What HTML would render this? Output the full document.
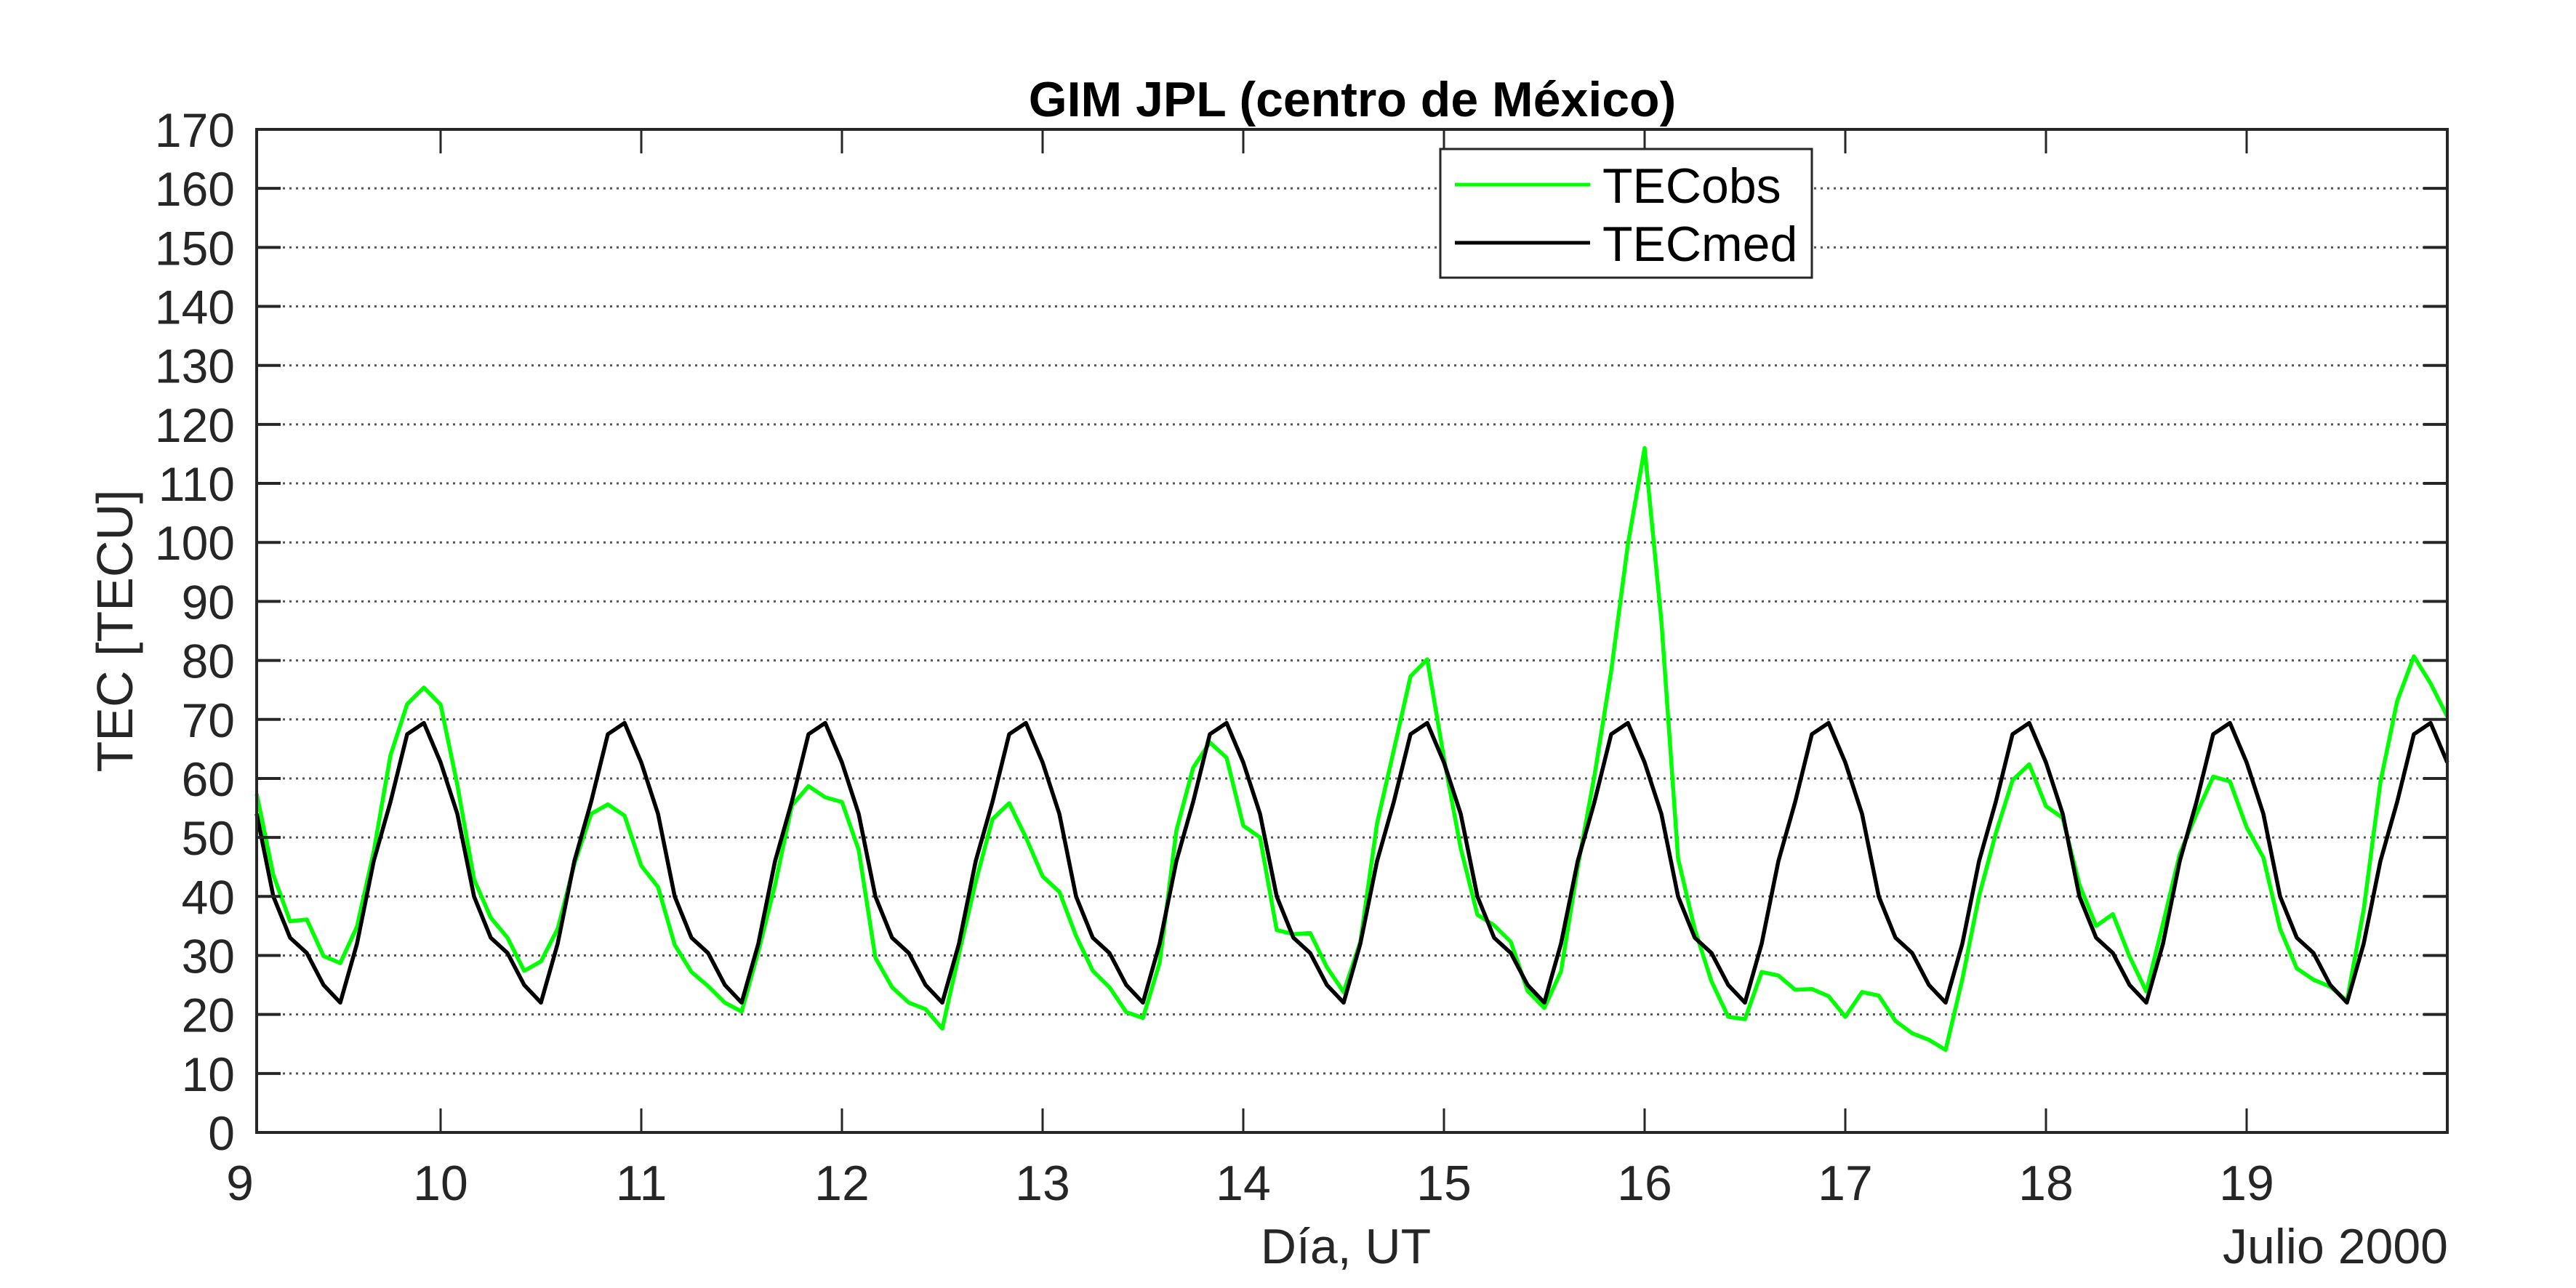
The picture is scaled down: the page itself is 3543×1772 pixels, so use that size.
<!DOCTYPE html>
<html><head><meta charset="utf-8"><style>
html,body{margin:0;padding:0;background:#fff;}
svg{display:block;font-family:"Liberation Sans",Arial,sans-serif;}
</style></head><body>
<svg id="chart" width="3543" height="1772" viewBox="0 0 3543 1772" xmlns="http://www.w3.org/2000/svg">
<rect width="3543" height="1772" fill="#fff"/>
<g id="grid"></g>
<g id="series"></g>
<g id="axes"></g>
<text x="1860" y="160" text-anchor="middle" font-size="68" font-weight="bold" fill="#000">GIM JPL (centro de México)</text>
<text x="1851" y="1738" text-anchor="middle" font-size="68" fill="#262626">Día, UT</text>
<text x="3367" y="1738" text-anchor="end" font-size="68" fill="#262626">Julio 2000</text>
<text transform="translate(182,868) rotate(-90)" text-anchor="middle" font-size="70" fill="#262626">TEC [TECU]</text>
<g>
<rect x="1981" y="205" width="511" height="177" fill="#fff" stroke="#262626" stroke-width="3"/>
<line x1="2001" y1="254" x2="2187" y2="254" stroke="#00ff00" stroke-width="5"/>
<text x="2204" y="279" font-size="68" fill="#000">TECobs</text>
<line x1="2001" y1="334" x2="2187" y2="334" stroke="#000" stroke-width="5"/>
<text x="2204" y="359" font-size="68" fill="#000">TECmed</text>
</g>
</svg>
<script>
const xTicks = [9,10,11,12,13,14,15,16,17,18,19];
const yTicks = [0,10,20,30,40,50,60,70,80,90,100,110,120,130,140,150,160,170];
const tStart = 9 + 1/12;
const tStep = 1/12;
const tecMedCycle = [54,40,33,30.4,25,22,32,46,56,67.5,69.4,62.7];
const tecObs = [
57.4,43.6,35.8,36.1,29.9,28.7,34.9,47.6,63.9,72.6,75.4,72.5,
58.9,42.9,36.4,33,27.4,29,34.5,45.5,54,55.6,53.7,45.2,
41.6,31.8,27.2,24.8,22,20.5,30.7,42,55.4,58.7,56.8,56,
47.9,29.6,24.6,22,20.9,17.6,30.3,42.5,53.1,55.8,50,43.4,
40.8,33.3,27.4,24.6,20.4,19.4,28.8,51.2,61.8,66.1,63.5,52,
50,34.3,33.6,33.8,28,23.8,32.3,52.4,64.8,77.3,80.2,63.4,
48.2,36.9,35.1,32.3,24,21.1,27.3,45,60.5,78.2,99.7,116,
86.7,46.4,34.4,25.6,19.6,19.2,27.2,26.6,24.2,24.3,23.1,19.6,
23.8,23.2,18.9,16.8,15.7,14,26,40.1,50.7,59.7,62.4,55.3,
53.3,42,35,37,29.8,23.9,35.4,47.2,54,60.3,59.5,51.7,
46.6,34.5,27.8,25.9,24.7,22.3,37.8,59.4,73.1,80.7,76.1,70.5
];
const tecMed = [];
for (let i = 0; i < tecObs.length; i++) tecMed.push(tecMedCycle[i % 12]);

const L=353,R=3366,T=178,B=1558;
const xMin=tStart,xMax=20,yMin=0,yMax=170;
const NS="http://www.w3.org/2000/svg";
function xs(v){return L+(v-xMin)/(xMax-xMin)*(R-L);}
function ys(v){return B-(v-yMin)/(yMax-yMin)*(B-T);}
function mk(tag,attrs,parent){const e=document.createElementNS(NS,tag);for(const k in attrs)e.setAttribute(k,attrs[k]);parent.appendChild(e);return e;}
const grid=document.getElementById('grid'),axes=document.getElementById('axes'),series=document.getElementById('series');
const ink="#262626";
yTicks.forEach(v=>{
  const y=ys(v);
  if(v>yMin&&v<yMax){
    const g=mk('line',{x1:L,x2:R,y1:y,y2:y,stroke:'#555','stroke-width':3,'stroke-dasharray':'3 6'},grid);
    
    
  }
  const t1=mk('line',{x1:L,x2:L+33,y1:y,y2:y,stroke:ink,'stroke-width':4},axes);
  
  
  const t2=mk('line',{x1:R-33,x2:R,y1:y,y2:y,stroke:ink,'stroke-width':4},axes);
  
  
  const lb=mk('text',{x:323,y:y+24,'text-anchor':'end','font-size':66,fill:ink},axes);
  lb.textContent=v;
  
  
});
xTicks.forEach(v=>{
  const x=xs(v);
  if(v>xMin){
    const t1=mk('line',{x1:x,x2:x,y1:B,y2:B-33,stroke:ink,'stroke-width':3},axes);
    
    
    const t2=mk('line',{x1:x,x2:x,y1:T,y2:T+33,stroke:ink,'stroke-width':3},axes);
    
    
  }
  const lb=mk('text',{x:Math.max(x,330),y:1651,'text-anchor':'middle','font-size':68,fill:ink},axes);
  lb.textContent=v;
  
  
});
const frame=mk('rect',{x:L,y:T,width:R-L,height:B-T,fill:'none',stroke:ink,'stroke-width':4},axes);


function pts(arr){return arr.map((v,i)=>xs(tStart+i*tStep).toFixed(1)+','+ys(v).toFixed(1)).join(' ');}
const g1=mk('polyline',{points:pts(tecObs),fill:'none',stroke:'#00ff00','stroke-width':5.5,'stroke-linejoin':'round'},series);


const g2=mk('polyline',{points:pts(tecMed),fill:'none',stroke:'#000','stroke-width':5.5,'stroke-linejoin':'round'},series);


</script>
</body></html>
